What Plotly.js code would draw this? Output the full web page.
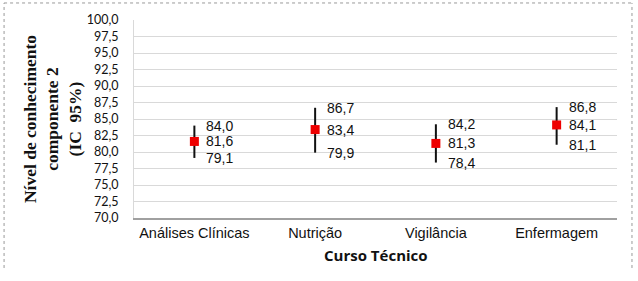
<!DOCTYPE html>
<html>
<head>
<meta charset="utf-8">
<script src="https://cdn.plot.ly/plotly-3.0.1.min.js"></script>
<style>html,body{margin:0;padding:0;background:#fff;}#chart{width:638px;height:281px;}</style>
</head>
<body>
<div id="chart"></div>
<script>
const categories = ["Análises Clínicas", "Nutrição", "Vigilância", "Enfermagem"];
const means = [81.6, 83.4, 81.3, 84.1];
const upper = [84.0, 86.7, 84.2, 86.8];
const lower = [79.1, 79.9, 78.4, 81.1];
const yTickVals = [70, 72.5, 75, 77.5, 80, 82.5, 85, 87.5, 90, 92.5, 95, 97.5, 100];
const xTitle = 'Curso Técnico';
const yTitle = 'Nível de conhecimento<br>componente 2<br>(IC  95%)';

const fmt = v => v.toFixed(1).replace('.', ',');

const trace = {
  type: 'scatter',
  mode: 'markers',
  x: categories,
  y: means,
  marker: {symbol: 'square', size: 9, color: '#ee0000'},
  error_y: {
    type: 'data',
    symmetric: false,
    array: upper.map((u, i) => u - means[i]),
    arrayminus: means.map((m, i) => m - lower[i]),
    color: '#111111',
    thickness: 2,
    width: 0
  },
  hoverinfo: 'skip',
  showlegend: false
};

const annotations = [];
categories.forEach((c, i) => {
  [upper[i], means[i], lower[i]].forEach(v => {
    annotations.push({
      x: c, y: v, xref: 'x', yref: 'y',
      text: fmt(v), showarrow: false,
      xanchor: 'left', yanchor: 'middle', xshift: 10,
      font: {family: 'Liberation Sans, Arial, sans-serif', size: 14, color: '#111'}
    });
  });
});
annotations.push({
  x: 0.5, y: -0.128, xref: 'paper', yref: 'paper',
  text: xTitle, showarrow: false, xanchor: 'center', yanchor: 'top',
  font: {family: 'Open Sans, sans-serif', size: 15, weight: 'bold', color: '#111'}
});

const border = {color: '#999', width: 1, dash: 'dot'};
const shapes = [
  {type: 'line', xref: 'paper', yref: 'paper', x0: -0.269, x1: -0.269, y0: -0.2525, y1: 1.086, line: border},
  {type: 'line', xref: 'paper', yref: 'paper', x0: -0.269, x1: 1.031, y0: 1.086, y1: 1.086, line: border},
  {type: 'line', xref: 'paper', yref: 'paper', x0: 1.031, x1: 1.031, y0: -0.2525, y1: 1.086, line: border}
];

const layout = {
  width: 638, height: 281,
  margin: {l: 134, r: 21, t: 20, b: 63},
  paper_bgcolor: '#fff', plot_bgcolor: '#fff',
  separators: ',.',
  font: {family: 'Liberation Sans, Arial, sans-serif', color: '#111'},
  xaxis: {
    type: 'category',
    range: [-0.5, 3.5],
    showgrid: false,
    showline: true, linecolor: '#a0a0a0', linewidth: 1.5,
    ticks: '', ticklabelstandoff: 1,
    tickfont: {family: 'Liberation Sans, Arial, sans-serif', size: 14.5, color: '#111'},
    zeroline: false, fixedrange: true
  },
  yaxis: {
    range: [70, 100],
    tickvals: yTickVals,
    tickformat: '.1f',
    showgrid: true, gridcolor: '#d9d9d9', gridwidth: 1,
    showline: true, linecolor: '#d9d9d9', linewidth: 1,
    ticks: '', ticklabelstandoff: 12,
    tickfont: {family: 'Lato, sans-serif', size: 12.5, color: '#111'},
    title: {
      text: yTitle,
      font: {family: 'Liberation Serif, Times New Roman, serif', size: 17.5, weight: 'bold', color: '#111'},
      standoff: 0
    },
    zeroline: false, fixedrange: true
  },
  annotations: annotations,
  shapes: shapes
};

Plotly.newPlot('chart', [trace], layout, {staticPlot: true, displayModeBar: false});
</script>
</body>
</html>
